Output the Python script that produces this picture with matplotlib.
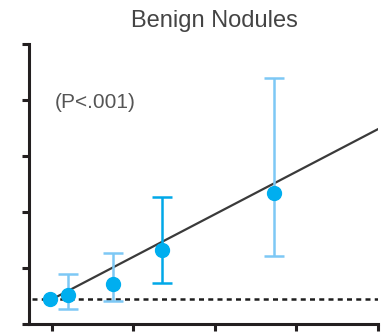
import matplotlib
matplotlib.use('Agg')
import matplotlib.pyplot as plt
import numpy as np

plt.rcParams['font.family'] = ['Liberation Sans', 'DejaVu Sans']

# data
x_vals = [-0.02, 0.2, 0.75, 1.35, 2.73]
y_vals = [0.45, 0.52, 0.71, 1.32, 2.34]
err_low = [0.45, 0.27, 0.41, 0.73, 1.21]
err_high = [0.45, 0.89, 1.27, 2.27, 4.39]
err_colors = ['#7dc8f5', '#7dc8f5', '#7dc8f5', '#00a8e8', '#7dc8f5']

baseline = 0.45
fit_slope = 0.76
fit_intercept = 0.44

fig = plt.figure(figsize=(3.83, 3.34), dpi=100)
ax = fig.add_axes([0.0757, 0.03, 0.911, 0.838])

ax.axhline(baseline, xmin=0.01, color='#1e1e1e', lw=1.8, ls=(0, (2.0, 1.7)), zorder=1)

fit_x = np.array([0, 4])
ax.plot(fit_x, fit_intercept + fit_slope * fit_x, color='#3a3a3a', lw=1.6, zorder=2)

for i in range(len(x_vals)):
    if err_high[i] - err_low[i] > 0.01:
        ax.errorbar(x_vals[i], y_vals[i],
                    yerr=[[y_vals[i] - err_low[i]], [err_high[i] - y_vals[i]]],
                    fmt='none', ecolor=err_colors[i], elinewidth=1.8,
                    capsize=7, capthick=1.8, zorder=3)
ax.plot(x_vals, y_vals, 'o', color='#00aeef', markersize=10, zorder=4, ls='none')

ax.set_xlim(-0.28, 4)
ax.set_ylim(0, 5)
ax.set_xticks([0, 1, 2, 3, 4])
ax.set_yticks([0, 1, 2, 3, 4, 5])
ax.set_xticklabels([])
ax.set_yticklabels([])
ax.spines['top'].set_visible(False)
ax.spines['right'].set_visible(False)
for s in ['left', 'bottom']:
    ax.spines[s].set_linewidth(2.2)
    ax.spines[s].set_color('#231f20')
ax.tick_params(width=2.2, length=5, color='#231f20')

ax.text(0.04, 3.85, '(P<.001)', fontsize=15, color='#555555', va='baseline', ha='left')
fig.text(0.56, 0.919, 'Benign Nodules', fontsize=17, color='#444444', ha='center', va='baseline')

fig.savefig('out.png', dpi=100)
